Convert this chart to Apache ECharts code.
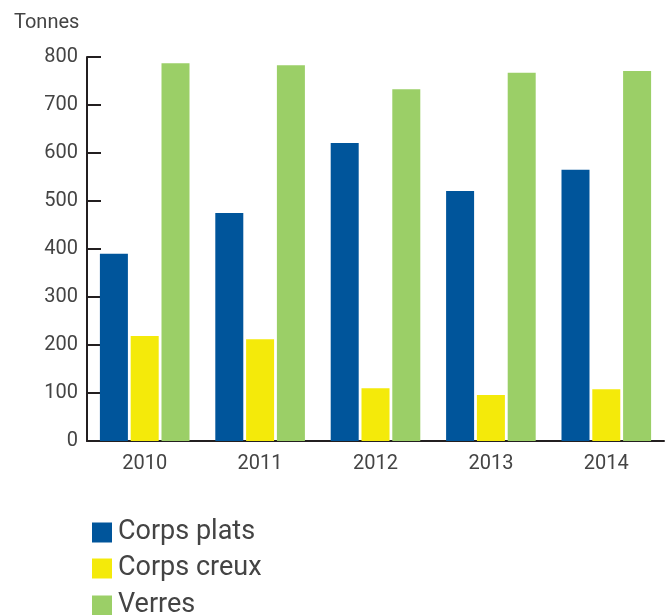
<!DOCTYPE html>
<html>
<head>
<meta charset="utf-8">
<script src="https://cdn.jsdelivr.net/npm/echarts@6/dist/echarts.min.js"></script>
<style>
  html, body { margin: 0; padding: 0; background: #fff; }
  #chart { width: 665px; height: 615px; }
</style>
</head>
<body>
<div id="chart"></div>
<script>
var years = ["2010", "2011", "2012", "2013", "2014"];
var corpsPlats = [390, 475, 621, 521, 565];
var corpsCreux = [219, 212, 110, 96, 108];
var verres = [787, 783, 733, 767, 771];
var yTicks = { min: 0, max: 800, interval: 100 };
var seriesNames = ["Corps plats", "Corps creux", "Verres"];

var fontFam = "Roboto, 'DejaVu Sans', sans-serif";
var axisColor = "#231f20";
var textColor = "#444444";

// one legend per row so they stack like the original
var legendTops = [514, 550, 587];
var legends = seriesNames.map(function (name, i) {
  return {
    left: 87,
    top: legendTops[i],
    itemWidth: 20,
    itemHeight: 20,
    icon: "rect",
    textStyle: { fontSize: 27, color: textColor, fontFamily: fontFam, padding: [0, 0, 0, 1] },
    data: [name]
  };
});

var chart = echarts.init(document.getElementById("chart"));
chart.setOption({
  animation: false,
  textStyle: { fontFamily: fontFam },
  title: {
    text: "Tonnes",
    left: 9,
    top: 8,
    textStyle: { fontSize: 20, fontWeight: "normal", color: textColor, fontFamily: fontFam }
  },
  legend: legends,
  grid: { left: 87, right: 1, top: 57, bottom: 174, containLabel: false },
  xAxis: {
    type: "category",
    data: years,
    axisLine: { lineStyle: { color: axisColor, width: 2 } },
    axisTick: { inside: true, length: 9, lineStyle: { color: axisColor, width: 2 } },
    axisLabel: { fontSize: 20, color: textColor, margin: 13 },
    splitLine: { show: false }
  },
  yAxis: {
    type: "value",
    min: yTicks.min,
    max: yTicks.max,
    interval: yTicks.interval,
    axisLine: { show: true, lineStyle: { color: axisColor, width: 2 } },
    axisTick: { show: true, inside: true, length: 14, lineStyle: { color: axisColor, width: 2 } },
    axisLabel: { fontSize: 20, color: textColor, margin: 9 },
    splitLine: { show: false }
  },
  series: [
    { name: seriesNames[0], type: "bar", data: corpsPlats, barWidth: 28, barGap: "10%", itemStyle: { color: "#00559b" } },
    { name: seriesNames[1], type: "bar", data: corpsCreux, barWidth: 28, barGap: "10%", itemStyle: { color: "#f4ea0a" } },
    { name: seriesNames[2], type: "bar", data: verres, barWidth: 28, barGap: "10%", itemStyle: { color: "#9bcf67" } }
  ]
});
</script>
</body>
</html>
